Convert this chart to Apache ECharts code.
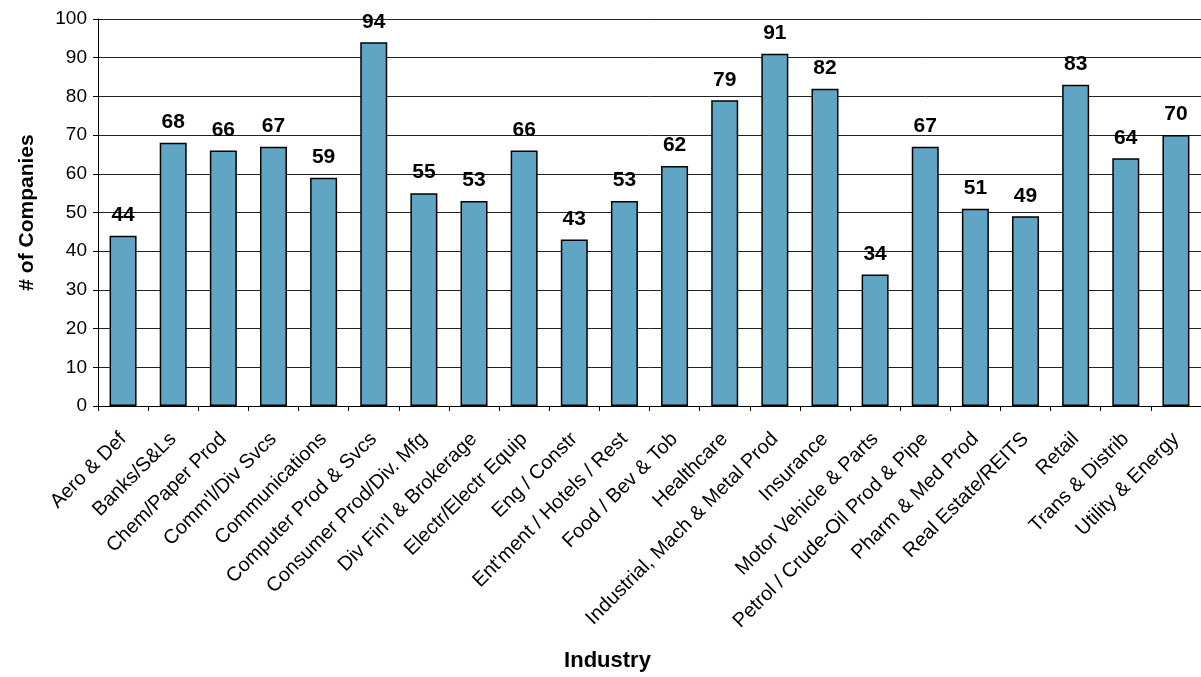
<!DOCTYPE html>
<html><head><meta charset="utf-8">
<script src="https://cdn.jsdelivr.net/npm/echarts@6/dist/echarts.min.js"></script>
<style>html,body{margin:0;padding:0;background:#fff}#c{width:1201px;height:677px}</style>
</head><body><div id="c"></div>
<script>
const categories = ["Aero & Def","Banks/S&Ls","Chem/Paper Prod","Comm'l/Div Svcs","Communications","Computer Prod & Svcs","Consumer Prod/Div. Mfg","Div Fin'l & Brokerage","Electr/Electr Equip","Eng / Constr","Ent'ment / Hotels / Rest","Food / Bev & Tob","Healthcare","Industrial, Mach & Metal Prod","Insurance","Motor Vehicle & Parts","Petrol / Crude-Oil Prod & Pipe","Pharm & Med Prod","Real Estate/REITS","Retail","Trans & Distrib","Utility & Energy"];
const companies = [44,68,66,67,59,94,55,53,66,43,53,62,79,91,82,34,67,51,49,83,64,70];

const FONT = 'Liberation Sans, Arial, sans-serif';
const chart = echarts.init(document.getElementById('c'));
chart.setOption({
  animation:false,
  grid:{left:98, top:19, width:1110, height:389},
  xAxis:{
    type:'category', data:categories,
    name:'Industry', nameLocation:'middle', nameGap:244,
    nameTextStyle:{fontFamily:FONT, fontWeight:'bold', fontSize:22, color:'#000', padding:[0,84,0,0]},
    axisLine:{lineStyle:{color:'#000', width:1}},
    axisTick:{show:true, length:5, lineStyle:{color:'#000'}},
    axisLabel:{rotate:45, interval:0, fontFamily:FONT, fontSize:20, color:'#000', margin:30}
  },
  yAxis:{
    type:'value', min:0, max:100, interval:10,
    name:'# of Companies', nameLocation:'middle', nameGap:60, nameRotate:90,
    nameTextStyle:{fontFamily:FONT, fontWeight:'bold', fontSize:21, color:'#000'},
    axisLine:{show:true, lineStyle:{color:'#000', width:1}},
    axisTick:{show:true, length:5, lineStyle:{color:'#000'}},
    axisLabel:{fontFamily:FONT, fontSize:19, color:'#000', margin:11},
    splitLine:{lineStyle:{color:'#222', width:1}}
  },
  series:[{
    type:'bar', data:companies, barWidth:27,
    itemStyle:{color:'#60A5C4', borderColor:'#000', borderWidth:1.5},
    label:{show:true, position:'top', distance:10, fontFamily:FONT, fontWeight:'bold', fontSize:21, color:'#000'}
  }]
});
</script></body></html>
